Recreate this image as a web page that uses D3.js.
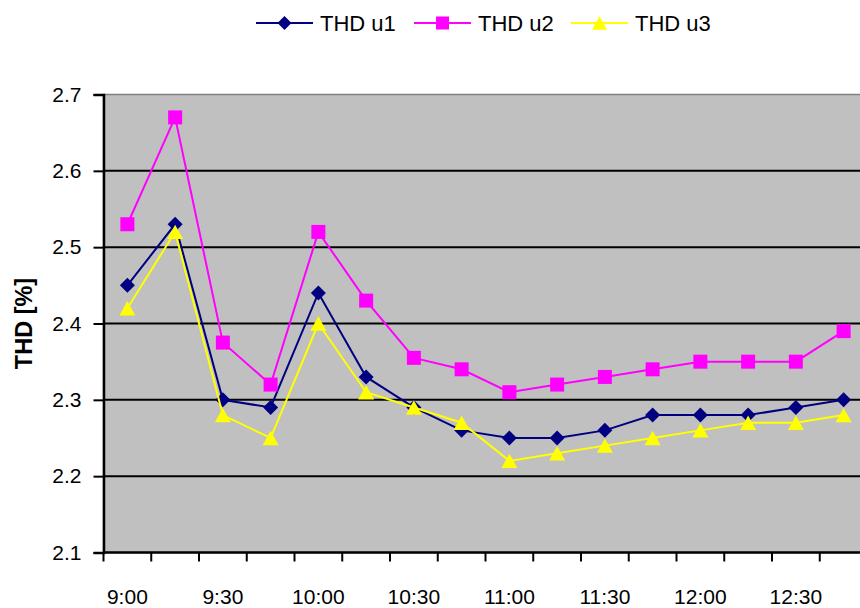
<!DOCTYPE html>
<html>
<head>
<meta charset="utf-8">
<script src="https://cdn.jsdelivr.net/npm/d3@7"></script>
<style>
  html, body { margin: 0; padding: 0; background: #fff; }
  svg { display: block; }
  text { font-family: "Liberation Sans", Arial, sans-serif; fill: #000; }
</style>
</head>
<body>
<svg id="chart" width="860" height="608"></svg>
<script>
// Sampling times (15-minute steps)
const times = ["9:00","9:15","9:30","9:45","10:00","10:15","10:30","10:45",
               "11:00","11:15","11:30","11:45","12:00","12:15","12:30","12:45"];
// Labelled times on the category axis
const timeLabels = ["9:00","9:30","10:00","10:30","11:00","11:30","12:00","12:30"];
// Total harmonic distortion per phase voltage [%]
const thdU1 = [2.45, 2.53, 2.30, 2.29, 2.44, 2.33, 2.29, 2.26, 2.25, 2.25, 2.26, 2.28, 2.28, 2.28, 2.29, 2.30];
const thdU2 = [2.53, 2.67, 2.375, 2.32, 2.52, 2.43, 2.355, 2.34, 2.31, 2.32, 2.33, 2.34, 2.35, 2.35, 2.35, 2.39];
const thdU3 = [2.42, 2.52, 2.28, 2.25, 2.40, 2.31, 2.29, 2.27, 2.22, 2.23, 2.24, 2.25, 2.26, 2.27, 2.27, 2.28];
const seriesNames = ["THD u1", "THD u2", "THD u3"];
const yTicks = [2.1, 2.2, 2.3, 2.4, 2.5, 2.6, 2.7];

const series = [
  { name: seriesNames[0], values: thdU1, color: "#000080", marker: "diamond" },
  { name: seriesNames[1], values: thdU2, color: "#FF00FF", marker: "square" },
  { name: seriesNames[2], values: thdU3, color: "#FFFF00", marker: "triangle" }
];

const svg = d3.select("#chart");
const plot = { left: 103.5, top: 94.5, bottom: 552.5, band: 47.75 };
plot.right = plot.left + plot.band * times.length;

const x = d3.scaleBand().domain(times).range([plot.left, plot.right]).padding(0);
const y = d3.scaleLinear().domain([2.1, 2.7]).range([plot.bottom, plot.top]);
const cx = t => x(t) + x.bandwidth() / 2;

// plot background
svg.append("rect")
  .attr("x", plot.left).attr("y", plot.top)
  .attr("width", plot.right - plot.left).attr("height", plot.bottom - plot.top)
  .attr("fill", "#C0C0C0").attr("stroke", "#808080").attr("stroke-width", 1.5);

// horizontal gridlines
svg.append("g").selectAll("line")
  .data(yTicks.filter(v => v > 2.1 && v < 2.7))
  .join("line")
  .attr("x1", plot.left).attr("x2", plot.right)
  .attr("y1", d => y(d)).attr("y2", d => y(d))
  .attr("stroke", "#000").attr("stroke-width", 2);

// value axis
const yAxis = d3.axisLeft(y).tickValues(yTicks).tickFormat(d3.format(".1f"))
  .tickSize(10).tickPadding(12);
const gy = svg.append("g").attr("transform", `translate(${plot.left},0)`).call(yAxis);
gy.select(".domain").attr("stroke", "#000").attr("stroke-width", 2.5);
gy.selectAll(".tick line").attr("stroke", "#000").attr("stroke-width", 2);
gy.selectAll(".tick text").style("font-size", "21px")
  .style("font-family", "'Liberation Sans', Arial, sans-serif").attr("fill", "#000");

// category axis: ticks between categories, labels every half hour
const gx = svg.append("g");
gx.append("line")
  .attr("x1", plot.left).attr("x2", plot.right)
  .attr("y1", plot.bottom).attr("y2", plot.bottom)
  .attr("stroke", "#000").attr("stroke-width", 2.5);
gx.selectAll("line.tick")
  .data(times)
  .join("line").attr("class", "tick")
  .attr("x1", d => x(d)).attr("x2", d => x(d))
  .attr("y1", plot.bottom).attr("y2", plot.bottom + 9)
  .attr("stroke", "#000").attr("stroke-width", 2);
gx.selectAll("text")
  .data(timeLabels)
  .join("text")
  .attr("x", d => cx(d)).attr("y", plot.bottom + 51)
  .attr("text-anchor", "middle")
  .style("font-size", "21px")
  .text(d => d);

// axis title
svg.append("text")
  .attr("transform", `translate(32,${(plot.top + plot.bottom) / 2}) rotate(-90)`)
  .attr("text-anchor", "middle")
  .style("font-size", "23.5px").style("font-weight", "bold")
  .text("THD [%]");

// marker shapes
function markerPath(kind, size) {
  const h = size / 2;
  if (kind === "diamond") return `M0,${-h}L${h},0L0,${h}L${-h},0Z`;
  if (kind === "square") return `M${-h},${-h}H${h}V${h}H${-h}Z`;
  const th = size * 0.9;
  return `M0,${-th / 2}L${h},${th / 2}L${-h},${th / 2}Z`;
}
const markerSize = { diamond: 15, square: 14, triangle: 16 };

const line = d3.line().x((d, i) => cx(times[i])).y(d => y(d));

series.forEach(s => {
  const g = svg.append("g");
  g.append("path")
    .attr("d", line(s.values))
    .attr("fill", "none").attr("stroke", s.color).attr("stroke-width", 2);
  g.selectAll("path.m")
    .data(s.values)
    .join("path").attr("class", "m")
    .attr("transform", (d, i) => `translate(${cx(times[i])},${y(d)})`)
    .attr("d", markerPath(s.marker, markerSize[s.marker]))
    .attr("fill", s.color);
});

// legend
const legendItems = [
  { s: series[0], x0: 256 },
  { s: series[1], x0: 414 },
  { s: series[2], x0: 571 }
];
const ly = 23;
legendItems.forEach(it => {
  const g = svg.append("g");
  g.append("line")
    .attr("x1", it.x0).attr("x2", it.x0 + 57)
    .attr("y1", ly).attr("y2", ly)
    .attr("stroke", it.s.color).attr("stroke-width", 2);
  g.append("path")
    .attr("transform", `translate(${it.x0 + 28.5},${ly})`)
    .attr("d", markerPath(it.s.marker, markerSize[it.s.marker] - 1))
    .attr("fill", it.s.color);
  g.append("text")
    .attr("x", it.x0 + 64).attr("y", ly + 8)
    .style("font-size", "22px")
    .text(it.s.name);
});
</script>
</body>
</html>
